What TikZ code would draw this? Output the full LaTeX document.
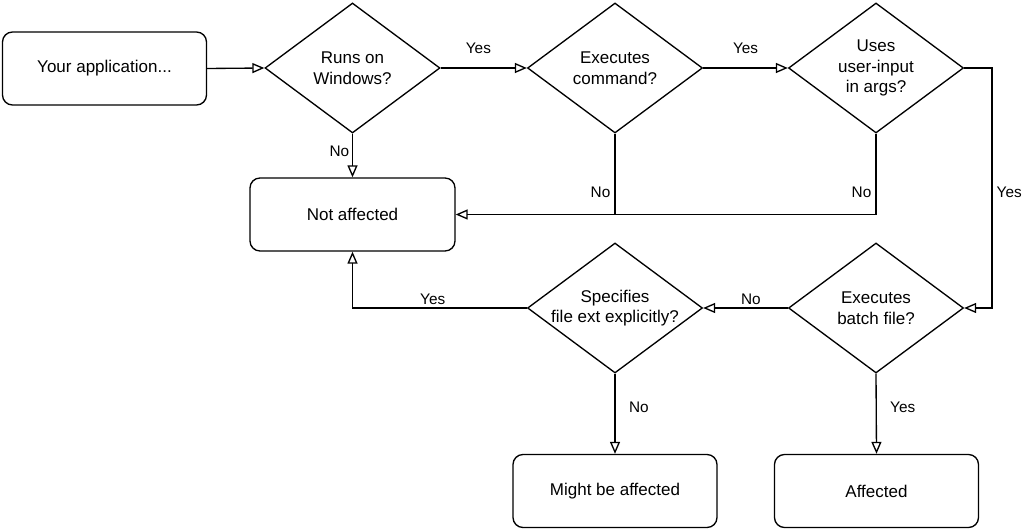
\documentclass[tikz,border=0pt]{standalone}
\usepackage{fontspec}
\setmainfont{Liberation Sans}
\usetikzlibrary{arrows.meta,shapes.geometric}
\begin{document}
\begin{tikzpicture}[x=0.75pt,y=-0.75pt,
  line width=1pt,
  every node/.style={font=\fontsize{12.75pt}{15.4pt}\selectfont},
  boxnode/.style={draw,rectangle,rounded corners=7.5pt,minimum width=153pt,minimum height=54.75pt,inner sep=0pt,align=center},
  dia/.style={draw,diamond,minimum width=131.25pt,minimum height=97.5pt,inner sep=0pt},
  dtext/.style={label={[align=center,font=\fontsize{12.75pt}{15.4pt}\selectfont]center:#1}},
  arr/.style={-{Triangle[open,length=9pt,width=7.5pt]}},
  lab/.style={font=\fontsize{11.5pt}{13.5pt}\selectfont,inner sep=2pt}
]
\useasboundingbox (0,0) rectangle (1024,530);

\node[boxnode] (app) at (104.5,68.5) {Your application...};
\node[dia,dtext={Runs on\\Windows?}] (d1) at (352.5,68) {};
\node[dia,dtext={Executes\\command?}] (d2) at (615,68) {};
\node[dia,dtext={Uses\\user-input\\in args?}] (d3) at (876,68) {};
\node[boxnode,minimum width=153.75pt] (na) at (352.5,214.5) {Not affected};
\node[dia,dtext={Specifies\\file ext explicitly?}] (d4) at (615,308) {};
\node[dia,dtext={Executes\\batch file?}] (d5) at (876,308) {};
\node[boxnode] (mba) at (615,491) {Might be affected};
\node[boxnode] (aff) at (876.5,491) {Affected};

\coordinate (j1) at (d2.south |- na.east);
\coordinate (c1) at (992,68);

\draw[arr] (app.east) -- (d1.west);
\draw[arr] (d1.east) -- node[lab,above=8pt,xshift=-4pt] {Yes} (d2.west);
\draw[arr] (d2.east) -- node[lab,above=8pt] {Yes} (d3.west);
\draw[arr] (d1.south) -- node[lab,left,pos=0.4] {No} (na.north);
\draw[arr] (d2.south) |- node[lab,left,inner sep=3pt,pos=0.36] {No} (na.east);
\draw (d3.south) |- node[lab,left,inner sep=3pt,pos=0.36] {No} (j1);
\draw[arr] (d3.east) -- (c1) |- node[lab,right,inner sep=3pt,pos=0.26] {Yes} (d5.east);
\draw[arr] (d5.west) -- node[lab,above,xshift=4pt] {No} (d4.east);
\draw[arr] (d4.west) -| node[lab,above,pos=0.27] {Yes} (na.south);
\draw[arr] (d4.south) -- node[lab,right=8pt,pos=0.42] {No} (mba.north);
\draw[arr] (d5.south) -- node[lab,right=8pt,pos=0.42] {Yes} (aff.north);
\end{tikzpicture}
\end{document}
